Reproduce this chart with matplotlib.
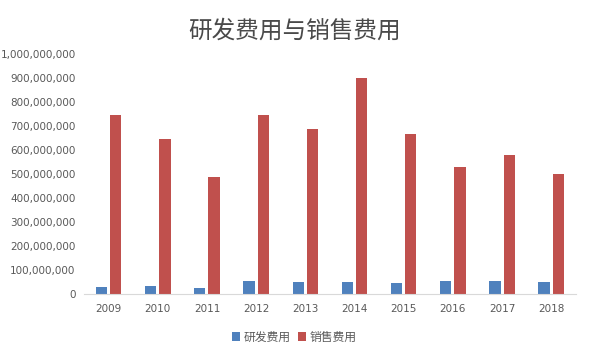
import numpy as np
import matplotlib.pyplot as plt
from matplotlib.ticker import FuncFormatter

plt.rcParams['font.family'] = ['Noto Sans CJK SC', 'DejaVu Sans']

years = ['2009', '2010', '2011', '2012', '2013', '2014', '2015', '2016', '2017', '2018']
yanfa = [29e6, 33e6, 25e6, 54e6, 50e6, 50e6, 46e6, 54e6, 54e6, 50e6]
xiaoshou = [745e6, 646e6, 487e6, 745e6, 688e6, 900e6, 667e6, 529e6, 579e6, 500e6]

fig = plt.figure(figsize=(5.89, 3.53), dpi=100)
ax = fig.add_axes([0.1426, 0.167, 0.835, 0.68])

x = np.arange(len(years))
w = 0.23
ax.bar(x - 0.145, yanfa, width=w, color='#4f81bd', label='研发费用')
ax.bar(x + 0.145, xiaoshou, width=w, color='#c0504d', label='销售费用')

ax.set_xlim(-0.5, len(years) - 0.5)
ax.set_ylim(0, 1e9)
ax.set_yticks(np.arange(0, 1.01e9, 1e8))
ax.yaxis.set_major_formatter(FuncFormatter(lambda v, p: f'{int(v):,}'))
ax.set_xticks(x)
ax.set_xticklabels(years)

for s in ['top', 'right', 'left']:
    ax.spines[s].set_visible(False)
ax.spines['bottom'].set_color('#d9d9d9')
ax.tick_params(length=0, colors='#595959', labelsize=7.5)
ax.tick_params(axis='x', pad=7)
ax.tick_params(axis='y', pad=6)
for t in ax.get_xticklabels() + ax.get_yticklabels():
    t.set_family('DejaVu Sans')

fig.text(0.5, 0.912, '研发费用与销售费用', ha='center', va='center',
         fontsize=17, color='#4a4a4a')
fig.legend(loc='center', bbox_to_anchor=(0.5, 0.045), ncol=2, frameon=False,
           fontsize=8.5, handlelength=0.7, handleheight=0.7, handletextpad=0.3,
           columnspacing=0.6, labelcolor='#595959')

fig.savefig('out.png', dpi=100)
